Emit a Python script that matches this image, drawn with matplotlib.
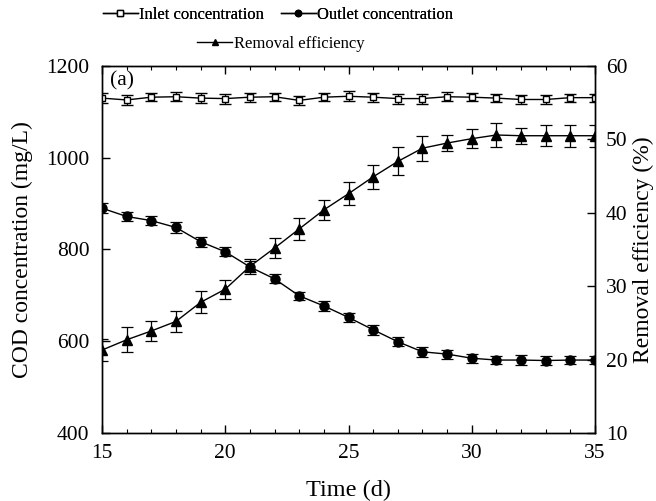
import matplotlib
matplotlib.use("Agg")
import matplotlib.pyplot as plt
from matplotlib.lines import Line2D
from matplotlib.ticker import MultipleLocator

plt.rcParams['font.family'] = ['Liberation Serif', 'DejaVu Serif']
plt.rcParams['mathtext.fontset'] = 'stix'
TICK_FS = 15.5
XLABEL_FS = 17.5
YLABEL_FS = 17
LEG_FS = 12

days = list(range(15, 36))
inlet = [1130, 1126, 1132, 1133, 1130, 1129, 1132, 1133, 1125, 1132, 1134,
         1132, 1129, 1129, 1133, 1132, 1130, 1127, 1127, 1131, 1131]
inlet_err = [11, 10, 9, 10, 11, 11, 10, 9, 9, 9, 11, 10, 11, 11, 10, 9, 9, 9, 9, 9, 9]
outlet = [890, 872, 863, 848, 817, 795, 762, 736, 699, 677, 652,
          625, 599, 577, 572, 563, 559, 559, 558, 559, 559]
outlet_err = [11, 10, 10, 11, 11, 10, 12, 10, 9, 10, 10, 11, 10, 11, 10, 10, 9, 10, 10, 9, 9]
removal = [21.3, 22.7, 23.9, 25.2, 27.8, 29.6, 32.7, 35.2, 37.8, 40.4, 42.6,
           44.9, 47.0, 48.8, 49.5, 50.1, 50.6, 50.5, 50.5, 50.5, 50.5]
removal_err = [1.5, 1.7, 1.3, 1.4, 1.5, 1.3, 1.0, 1.4, 1.5, 1.4, 1.6,
               1.6, 1.9, 1.7, 1.1, 1.3, 1.7, 1.1, 1.4, 1.5, 1.5]

fig = plt.figure(figsize=(6.56, 5.01), dpi=100)
ax = fig.add_axes([102/656, 1-433/501, (595-102)/656, (433-66)/501])
ax2 = ax.twinx()

ekw = dict(color='black', lw=1.0, ecolor='black', elinewidth=0.9, capsize=4.5, capthick=0.9)
ax.errorbar(days, inlet, yerr=inlet_err, marker='s', ms=5, mfc='white', mec='black', mew=1.0, zorder=3, **ekw)
ax.errorbar(days, outlet, yerr=outlet_err, marker='o', ms=6.5, mfc='black', mec='black', zorder=3, **ekw)
ax2.errorbar(days, removal, yerr=removal_err, marker='^', ms=7, mfc='black', mec='black', zorder=3, **ekw)

ax.set_xlim(15, 35)
ax.set_ylim(400, 1200)
ax2.set_ylim(10, 60)
ax.xaxis.set_major_locator(MultipleLocator(5))
ax.xaxis.set_minor_locator(MultipleLocator(1))
ax.yaxis.set_major_locator(MultipleLocator(200))
ax2.yaxis.set_major_locator(MultipleLocator(10))

ax.tick_params(axis='x', which='major', direction='in', length=6, width=1, top=True, labelsize=TICK_FS, pad=8)
ax.tick_params(axis='x', which='minor', direction='in', length=3, width=0.8, top=True)
ax.tick_params(axis='y', which='major', direction='in', length=6, width=1, labelsize=TICK_FS, pad=9)
ax2.tick_params(axis='y', which='major', direction='in', length=6, width=1, labelsize=TICK_FS, pad=8)
for a in (ax, ax2):
    for s in a.spines.values():
        s.set_linewidth(1.0)

ax.set_xlabel('Time (d)', fontsize=XLABEL_FS, labelpad=12)
ax.set_ylabel('COD concentration (mg/L)', fontsize=YLABEL_FS, va='center')
ax.yaxis.set_label_coords((22 - 102) / 493, 0.5)
ax2.set_ylabel('Removal efficiency (%)', fontsize=YLABEL_FS, va='center', rotation=90)
ax2.yaxis.set_label_coords((643 - 102) / 493, 0.5)
ax.text(0.017, 0.985, '(a)', transform=ax.transAxes, fontsize=TICK_FS, va='top', ha='left')

h1 = Line2D([], [], color='black', lw=1.0, marker='s', ms=4, mfc='white', mec='black')
h2 = Line2D([], [], color='black', lw=1.0, marker='o', ms=4.5, mfc='black', mec='black')
h3 = Line2D([], [], color='black', lw=1.0, marker='^', ms=4.5, mfc='black', mec='black')
leg1 = fig.legend([h1, h2], ['Inlet concentration', 'Outlet concentration'], ncol=2,
                  loc='center', bbox_to_anchor=(278/656, 1-15/501), frameon=False, fontsize=LEG_FS,
                  handlelength=2.1, handletextpad=0.1, columnspacing=1.0, borderpad=0, borderaxespad=0)
leg2 = fig.legend([h3], ['Removal efficiency'], loc='center', bbox_to_anchor=(281/656, 1-44/501),
                  frameon=False, fontsize=LEG_FS, handlelength=2.1, handletextpad=0.1, borderpad=0, borderaxespad=0)
fig.add_artist(leg1)

fig.savefig('out.png', dpi=100)
